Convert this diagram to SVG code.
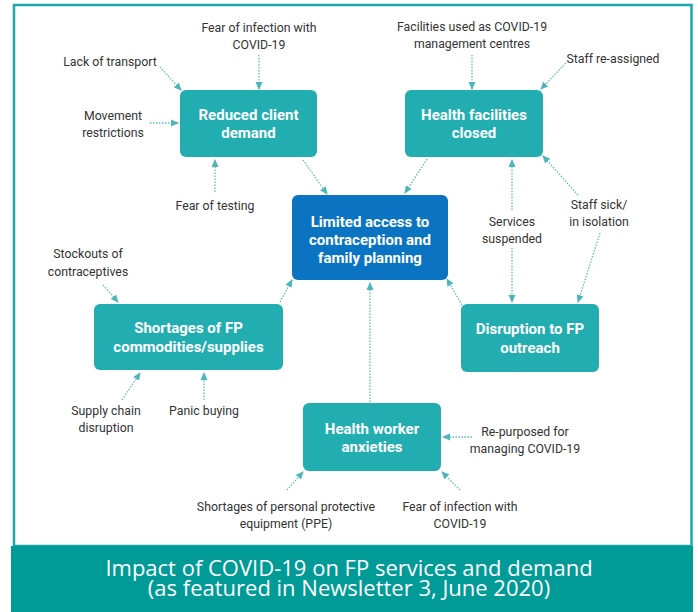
<svg xmlns="http://www.w3.org/2000/svg" width="698" height="612" viewBox="0 0 698 612">
<defs>
<marker id="ah" markerWidth="8" markerHeight="8" refX="7" refY="4" orient="auto" markerUnits="userSpaceOnUse">
<path d="M0,0.5 L8,4 L0,7.5 Z" fill="#4db6b8"/>
</marker>
</defs>
<style>
.node{fill:#22aeb1}
.center{fill:#0b74c2}
.nt{font-family:Roboto,"Liberation Sans",sans-serif;font-weight:bold;font-size:15px;fill:#ffffff;text-anchor:middle}
.lb{font-family:Roboto,"Liberation Sans",sans-serif;font-size:12.3px;fill:#333333;text-anchor:middle}
.cn{stroke:#5cbcbe;stroke-width:1.3;stroke-dasharray:1.5 1.5;fill:none;marker-end:url(#ah)}
.cap{font-family:"Open Sans","Noto Sans",sans-serif;font-size:22px;fill:#ffffff;text-anchor:middle}
</style>
<rect x="0" y="0" width="698" height="612" fill="#ffffff"/>
<rect x="14" y="5" width="677.5" height="541" fill="#ffffff" stroke="#17a9ab" stroke-width="2.5"/>
<rect x="11" y="546" width="682" height="66" fill="#009a97"/>
<text class="cap" x="349" y="576">Impact of COVID-19 on FP services and demand</text>
<text class="cap" x="349" y="596">(as featured in Newsletter 3, June 2020)</text>

<g id="connectors">
<path class="cn" d="M160,67 L181,90"/>
<path class="cn" d="M259,55 L259,89"/>
<path class="cn" d="M150,123 L178,123"/>
<path class="cn" d="M215,192 L215,160"/>
<path class="cn" d="M303,160 L327,194"/>
<path class="cn" d="M472,55 L472,89"/>
<path class="cn" d="M566,63 L541,89"/>
<path class="cn" d="M427,159 L405,193"/>
<path class="cn" d="M512,210 L512,160"/>
<path class="cn" d="M512,248 L512,302"/>
<path class="cn" d="M578,195 L543,156"/>
<path class="cn" d="M600,233 L578,302"/>
<path class="cn" d="M462,305 L447,279"/>
<path class="cn" d="M370,402 L370,283"/>
<path class="cn" d="M280,302 L292,280"/>
<path class="cn" d="M103,285 L118,302"/>
<path class="cn" d="M122,400 L140,373"/>
<path class="cn" d="M204,400 L204,373"/>
<path class="cn" d="M472,437 L443,437"/>
<path class="cn" d="M287,490 L303,472"/>
<path class="cn" d="M460,490 L442,472"/>
</g>

<g id="reduced">
<rect class="node" x="180" y="90" width="137" height="67" rx="6"/>
<text class="nt" x="248.5" y="120">Reduced client</text>
<text class="nt" x="248.5" y="138">demand</text>
</g>
<g id="facilities">
<rect class="node" x="405" y="90" width="138" height="67" rx="6"/>
<text class="nt" x="474" y="120">Health facilities</text>
<text class="nt" x="474" y="138">closed</text>
</g>
<g id="limited">
<rect class="center" x="292" y="195" width="156" height="85" rx="6"/>
<text class="nt" x="370" y="227">Limited access to</text>
<text class="nt" x="370" y="245">contraception and</text>
<text class="nt" x="370" y="263">family planning</text>
</g>
<g id="shortages">
<rect class="node" x="94" y="304" width="189" height="66" rx="6"/>
<text class="nt" x="188.5" y="333">Shortages of FP</text>
<text class="nt" x="188.5" y="352">commodities/supplies</text>
</g>
<g id="disruption">
<rect class="node" x="461" y="304" width="138" height="68" rx="6"/>
<text class="nt" x="530" y="334">Disruption to FP</text>
<text class="nt" x="530" y="353">outreach</text>
</g>
<g id="hwanxieties">
<rect class="node" x="303" y="403" width="138" height="68" rx="6"/>
<text class="nt" x="372" y="434">Health worker</text>
<text class="nt" x="372" y="452">anxieties</text>
</g>

<g id="labels">
<text class="lb" x="259" y="32">Fear of infection with</text>
<text class="lb" x="259" y="49">COVID-19</text>
<text class="lb" x="110" y="66">Lack of transport</text>
<text class="lb" x="113" y="120">Movement</text>
<text class="lb" x="113" y="137">restrictions</text>
<text class="lb" x="215" y="210">Fear of testing</text>
<text class="lb" x="472" y="31">Facilities used as COVID-19</text>
<text class="lb" x="472" y="48">management centres</text>
<text class="lb" x="613" y="63">Staff re-assigned</text>
<text class="lb" x="512" y="226">Services</text>
<text class="lb" x="512" y="243">suspended</text>
<text class="lb" x="599" y="209">Staff sick/</text>
<text class="lb" x="599" y="226">in isolation</text>
<text class="lb" x="88" y="258">Stockouts of</text>
<text class="lb" x="88" y="276">contraceptives</text>
<text class="lb" x="106" y="415">Supply chain</text>
<text class="lb" x="106" y="432">disruption</text>
<text class="lb" x="204" y="415">Panic buying</text>
<text class="lb" x="525" y="436">Re-purposed for</text>
<text class="lb" x="525" y="453">managing COVID-19</text>
<text class="lb" x="286" y="511">Shortages of personal protective</text>
<text class="lb" x="286" y="528">equipment (PPE)</text>
<text class="lb" x="460" y="511">Fear of infection with</text>
<text class="lb" x="460" y="528">COVID-19</text>
</g>
</svg>
